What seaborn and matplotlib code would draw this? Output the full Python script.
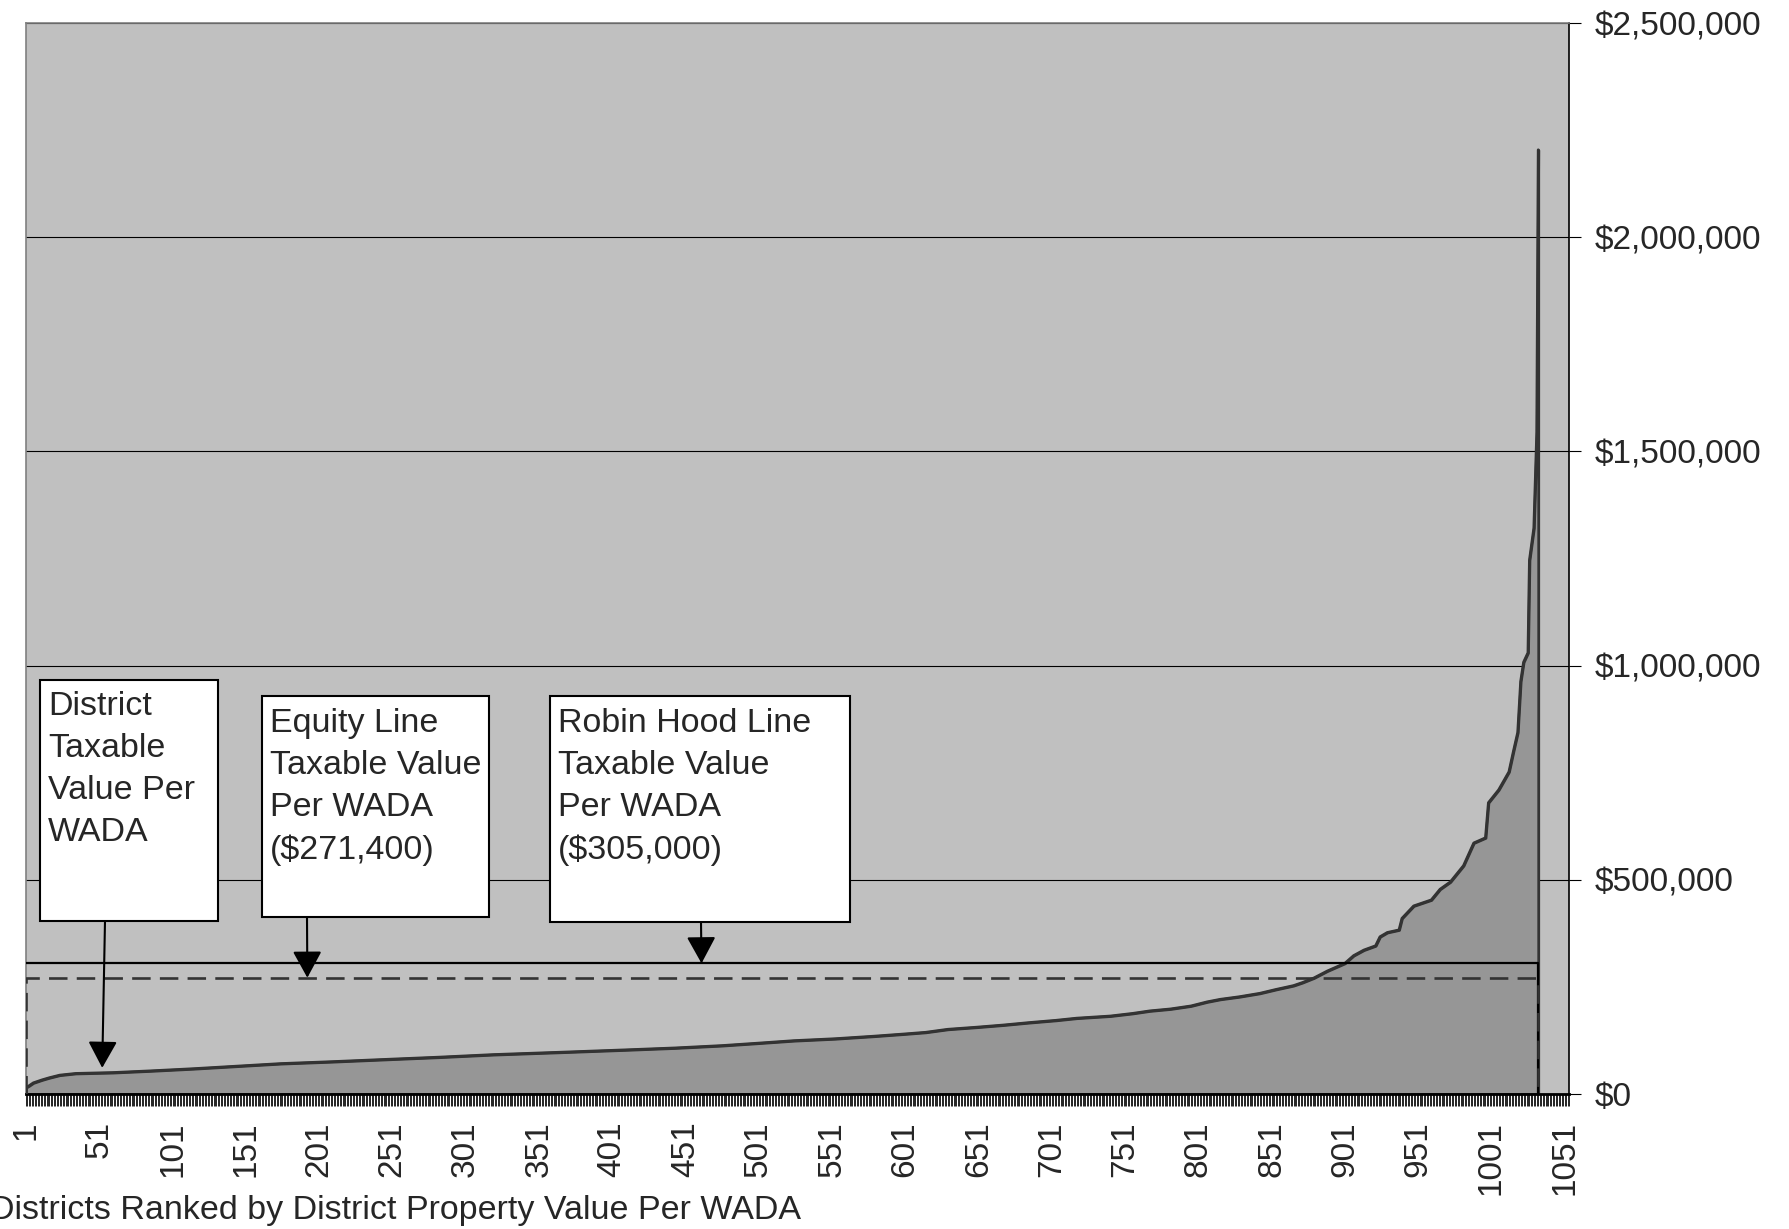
import pandas as pd
import seaborn as sns
import matplotlib.pyplot as plt
from matplotlib.patches import Rectangle
from matplotlib.ticker import FuncFormatter, MultipleLocator


# district value per WADA (rank -> value)
rank = [1, 3, 6, 12, 17, 24, 35, 60, 86, 115, 145, 175, 210, 248, 283, 320,
        370, 410, 444, 476, 502, 525, 553, 580, 600, 615, 630, 650, 668, 685,
        704, 718, 741, 756, 768, 782, 796, 807, 816, 829, 843, 854, 866, 872,
        880, 889, 901, 907, 914, 922, 925, 930, 938, 940, 948, 960, 966, 973,
        982, 989, 997, 999, 1006, 1013, 1016, 1019, 1021, 1023, 1026, 1027,
        1030, 1032, 1033]
value = [15000, 19000, 26000, 33000, 38000, 44000, 48000, 50000, 54000, 59000,
         65000, 71000, 75500, 81000, 86000, 92000, 98000, 103000, 107500,
         113000, 119000, 124500, 129000, 135000, 140000, 144000, 151000,
         156000, 161000, 166500, 172000, 177000, 182000, 188000, 194000,
         198500, 205500, 215000, 221000, 227000, 235000, 244000, 253000,
         260000, 271000, 287000, 305000, 323000, 336000, 346000, 367000,
         377000, 383000, 410000, 439000, 453000, 478000, 495000, 533000,
         586000, 598000, 680000, 710000, 752000, 799000, 844000, 963000,
         1008000, 1030000, 1246000, 1321000, 1545000, 2204000]

equity_line = 271400
robin_hood_line = 305000
n_categories = 1054
x_ticks = [1, 51, 101, 151, 201, 251, 301, 351, 401, 451, 501, 551, 601, 651,
           701, 751, 801, 851, 901, 951, 1001, 1051]
y_ticks = [0, 500000, 1000000, 1500000, 2000000, 2500000]

box_texts = ["District\nTaxable\nValue Per\nWADA",
             "Equity Line\nTaxable Value\nPer WADA\n($271,400)",
             "Robin Hood Line\nTaxable Value\nPer WADA\n($305,000)"]

df = pd.DataFrame({'rank': rank, 'value': value})

sns.set_style('white')
plt.rcParams['font.family'] = ['Liberation Sans', 'DejaVu Sans']

W, H = 1790, 1229
fig = plt.figure(figsize=(W / 100, H / 100), dpi=100)
fig.patch.set_facecolor('white')
ax = fig.add_axes([26 / W, 1 - 1094 / H, 1543 / W, 1071 / H])
ax.set_facecolor('#c0c0c0')

# main area
ax.fill_between(df['rank'], df['value'], facecolor='#969696',
                edgecolor='#333333', linewidth=2, zorder=2)
sns.lineplot(data=df, x='rank', y='value', ax=ax, color='#333333',
             linewidth=2, zorder=3)

# robin hood (solid) and equity (dashed) lines
ax.plot([rank[0], rank[-1], rank[-1]], [robin_hood_line, robin_hood_line, 0],
        color='black', linewidth=1.6, zorder=4)
ax.plot([rank[0], rank[0], rank[-1], rank[-1]], [0, equity_line, equity_line, 0],
        color='#333333', linewidth=1.9, linestyle=(0, (7, 3.5)), zorder=4)

ax.set_xlim(1, n_categories)
ax.set_ylim(0, 2500000)
ax.set_xlabel('')
ax.set_ylabel('')

ax.yaxis.tick_right()
ax.set_yticks(y_ticks)
ax.yaxis.set_major_formatter(FuncFormatter(lambda v, p: '${:,.0f}'.format(v)))
ax.grid(axis='y', color='black', linewidth=0.8)
ax.grid(axis='x', visible=False)
ax.set_axisbelow(True)

ax.set_xticks(x_ticks)
ax.set_xticklabels([str(t) for t in x_ticks], rotation=90)
ax.xaxis.set_minor_locator(MultipleLocator(1))
ax.tick_params(axis='x', which='both', bottom=True, direction='out',
               length=8.6, width=0.6, color='black')
ax.tick_params(axis='x', which='major', labelsize=24, pad=11)
ax.tick_params(axis='y', which='major', right=True, left=False, direction='out',
               length=8.6, width=0.8, color='black', labelsize=24, pad=10)

for s in ['top', 'left']:
    ax.spines[s].set_color('#808080')
    ax.spines[s].set_linewidth(1.2)
ax.spines['right'].set_color('black')
ax.spines['right'].set_linewidth(1.2)
ax.spines['bottom'].set_color('black')
ax.spines['bottom'].set_linewidth(2)

# text boxes (pixel layout: left, top, right, bottom, text x, text top)
boxes = [(40, 680, 218, 921, 48, 691),
         (262, 696, 489, 917, 270, 708),
         (550, 696, 850, 922, 558, 708)]
for (l, t, r, b, tx, ty), txt in zip(boxes, box_texts):
    fig.add_artist(Rectangle((l / W, 1 - b / H), (r - l) / W, (b - t) / H,
                             transform=fig.transFigure, facecolor='white',
                             edgecolor='black', linewidth=1.5, zorder=5))
    fig.text(tx / W, 1 - ty / H, txt, fontsize=24.5, ha='left', va='top',
             linespacing=1.46, zorder=6)

# arrows from boxes to the lines
arrows = [((53, 61000), (105, 921)),
          ((193, equity_line), (307, 917)),
          ((462, robin_hood_line), (701, 922))]
for tip, (px, py) in arrows:
    ax.annotate('', xy=tip, xycoords='data',
                xytext=(px / W, 1 - py / H), textcoords='figure fraction',
                arrowprops=dict(arrowstyle='-|>,head_length=1.65,head_width=0.9',
                                color='black', lw=1.5, shrinkA=0, shrinkB=0),
                zorder=6)

fig.text(801 / W, 1 - 1219 / H,
         'Districts Ranked by District Property Value Per WADA',
         fontsize=24.5, ha='right', va='baseline')

fig.savefig('out.png', dpi=100)
